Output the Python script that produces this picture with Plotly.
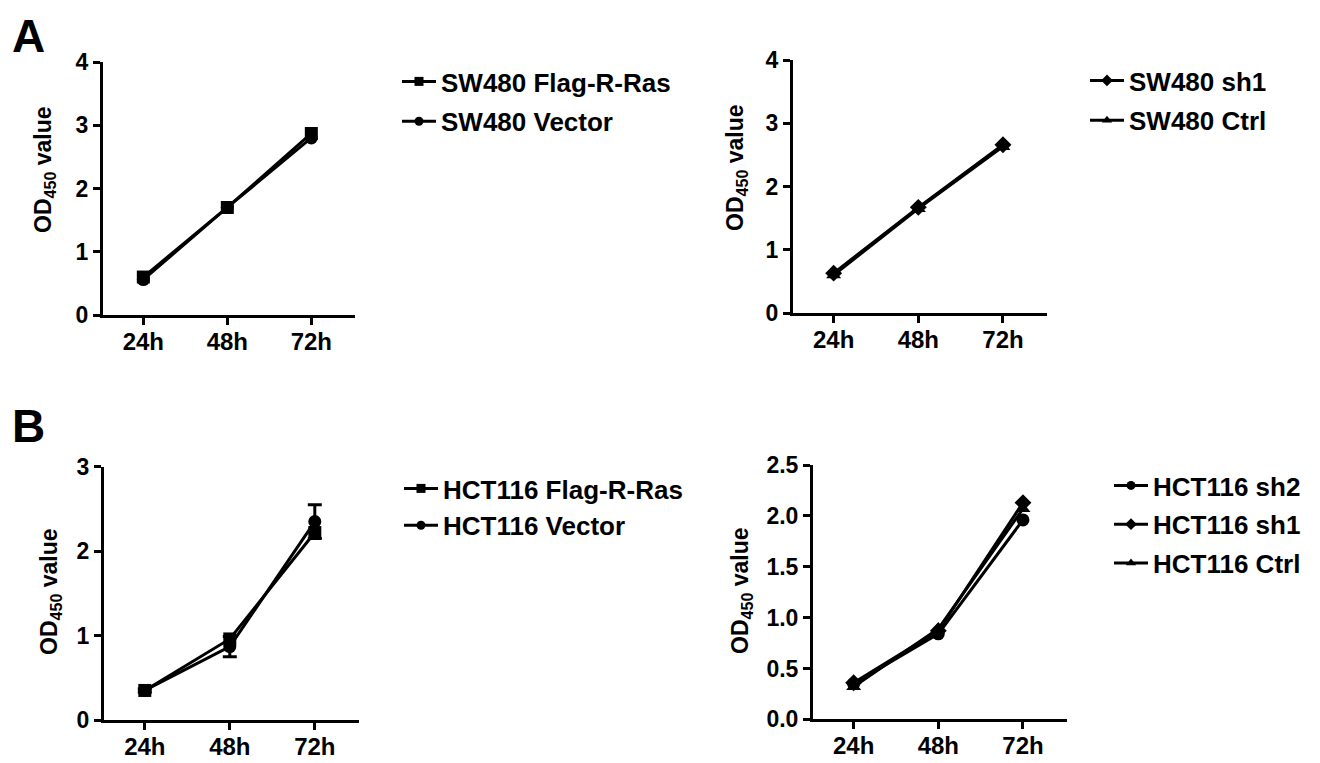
import plotly.graph_objects as go

# The page body has an 8px margin; the figure is sized to fill the rest of the window.
OFF = 8
W, H = 1320 - OFF, 763 - OFF
FONT = "Arial, Liberation Sans, sans-serif"

timepoints = ["24h", "48h", "72h"]

# Panel A left
sw480_flag = [0.60, 1.70, 2.87]
sw480_vector = [0.56, 1.70, 2.80]
# Panel A right
sw480_sh1 = [0.63, 1.67, 2.66]
sw480_ctrl = [0.60, 1.65, 2.63]
# Panel B left
hct_flag = [0.35, 0.96, 2.22]
hct_vector = [0.35, 0.87, 2.35]
hct_vector_err = [0.02, 0.12, 0.20]
# Panel B right
hct_sh2 = [0.35, 0.84, 1.96]
hct_sh1 = [0.36, 0.87, 2.13]
hct_ctrl = [0.32, 0.89, 2.07]

yticks_A = [0, 1, 2, 3, 4]
yticks_BL = [0, 1, 2, 3]
yticks_BR = [0, 0.5, 1.0, 1.5, 2.0, 2.5]
yticklabels_BR = ["0.0", "0.5", "1.0", "1.5", "2.0", "2.5"]

fig = go.Figure()


def px_x(p):
    return (p - OFF) / W


def px_y(p):
    return 1 - (p - OFF) / H


panels = {
    # name: (x0, x1, ytop, ybottom) in window pixels
    "1": (103, 355, 62, 315),
    "2": (793, 1047, 60, 313),
    "3": (104, 359, 466.7, 720),
    "4": (813, 1067, 465, 719.3),
}


def add_series(ax, y, name, symbol, legend, size=13, err=None):
    xa = "x" if ax == "1" else "x" + ax
    ya = "y" if ax == "1" else "y" + ax
    kw = {}
    if err is not None:
        kw["error_y"] = dict(type="data", array=err, visible=True, color="black",
                             thickness=3, width=7)
    fig.add_trace(go.Scatter(
        x=timepoints, y=y, mode="lines+markers", name=name,
        line=dict(color="black", width=3),
        marker=dict(symbol=symbol, size=size, color="black"),
        xaxis=xa, yaxis=ya, showlegend=False, **kw))
    # legend entry (smaller marker as in the reference legend)
    fig.add_trace(go.Scatter(
        x=[None], y=[None], mode="lines+markers", name=name,
        line=dict(color="black", width=3),
        marker=dict(symbol=symbol, size=9, color="black"),
        xaxis=xa, yaxis=ya, legend=legend, legendgroup=name, showlegend=True))


add_series("1", sw480_flag, "SW480 Flag-R-Ras", "square", "legend")
add_series("1", sw480_vector, "SW480 Vector", "circle", "legend")
add_series("2", sw480_sh1, "SW480 sh1", "diamond", "legend2")
add_series("2", sw480_ctrl, "SW480 Ctrl", "triangle-up", "legend2")
add_series("3", hct_flag, "HCT116 Flag-R-Ras", "square", "legend3")
add_series("3", hct_vector, "HCT116 Vector", "circle", "legend3", err=hct_vector_err)
add_series("4", hct_sh2, "HCT116 sh2", "circle", "legend4")
add_series("4", hct_sh1, "HCT116 sh1", "diamond", "legend4")
add_series("4", hct_ctrl, "HCT116 Ctrl", "triangle-up", "legend4")

layout = dict(
    template="none",
    width=W, height=H, autosize=False,
    margin=dict(l=0, r=0, t=0, b=0, pad=0, autoexpand=False),
    paper_bgcolor="white", plot_bgcolor="white",
    font=dict(family=FONT, color="black"),
)

yinfo = {
    "1": ([0, 4], yticks_A, [str(v) for v in yticks_A]),
    "2": ([0, 4], yticks_A, [str(v) for v in yticks_A]),
    "3": ([0, 3], yticks_BL, [str(v) for v in yticks_BL]),
    "4": ([0, 2.5], yticks_BR, yticklabels_BR),
}

for k, (x0, x1, yt, yb) in panels.items():
    xname = "xaxis" if k == "1" else "xaxis" + k
    yname = "yaxis" if k == "1" else "yaxis" + k
    yref = "y" if k == "1" else "y" + k
    xref = "x" if k == "1" else "x" + k
    rng, tv, tt = yinfo[k]
    layout[xname] = dict(
        domain=[px_x(x0), px_x(x1)], anchor=yref, type="category",
        range=[-0.48, 2.52], showline=True, linecolor="black", linewidth=3,
        ticks="outside", ticklen=7, tickwidth=3, tickcolor="black",
        showgrid=False, zeroline=False, automargin=False,
        ticklabelstandoff=-4,
        tickfont=dict(family=FONT, size=24, color="black", weight="bold"),
    )
    layout[yname] = dict(
        domain=[px_y(yb), px_y(yt)], anchor=xref, range=rng,
        tickvals=tv, ticktext=tt, showline=True, linecolor="black", linewidth=3,
        ticks="outside", ticklen=7, tickwidth=3, tickcolor="black",
        showgrid=False, zeroline=False, automargin=False,
        tickfont=dict(family=FONT, size=23, color="black", weight="bold"),
    )

leg_common = dict(
    xanchor="left", yanchor="top", bgcolor="rgba(0,0,0,0)", borderwidth=0,
    font=dict(family=FONT, size=26, color="black", weight="bold"),
    itemwidth=34, traceorder="grouped",
)
layout["legend"] = dict(x=px_x(397), y=px_y(58), tracegroupgap=3, **leg_common)
layout["legend2"] = dict(x=px_x(1085), y=px_y(57), tracegroupgap=3, **leg_common)
layout["legend3"] = dict(x=px_x(399), y=px_y(465), tracegroupgap=0, **leg_common)
layout["legend4"] = dict(x=px_x(1109), y=px_y(462), tracegroupgap=2, **leg_common)

fig.update_layout(**layout)

# Y-axis titles
for (cx, cy) in [(45, 170), (737, 168), (50, 592), (741, 591)]:
    fig.add_annotation(
        x=px_x(cx), y=px_y(cy), xref="paper", yref="paper",
        text="<b>OD<sub>450</sub> value</b>", textangle=-90, showarrow=False,
        font=dict(family=FONT, size=23, color="black"),
        xanchor="center", yanchor="middle")

# Panel letters
fig.add_annotation(
    x=px_x(28), y=1.0, xref="paper", yref="paper",
    text="<b>A</b>", showarrow=False,
    font=dict(family=FONT, size=46, color="black"),
    xanchor="center", yanchor="top")
fig.add_annotation(
    x=px_x(28), y=px_y(426), xref="paper", yref="paper",
    text="<b>B</b>", showarrow=False,
    font=dict(family=FONT, size=46, color="black"),
    xanchor="center", yanchor="middle")

fig.write_html("out.html")
